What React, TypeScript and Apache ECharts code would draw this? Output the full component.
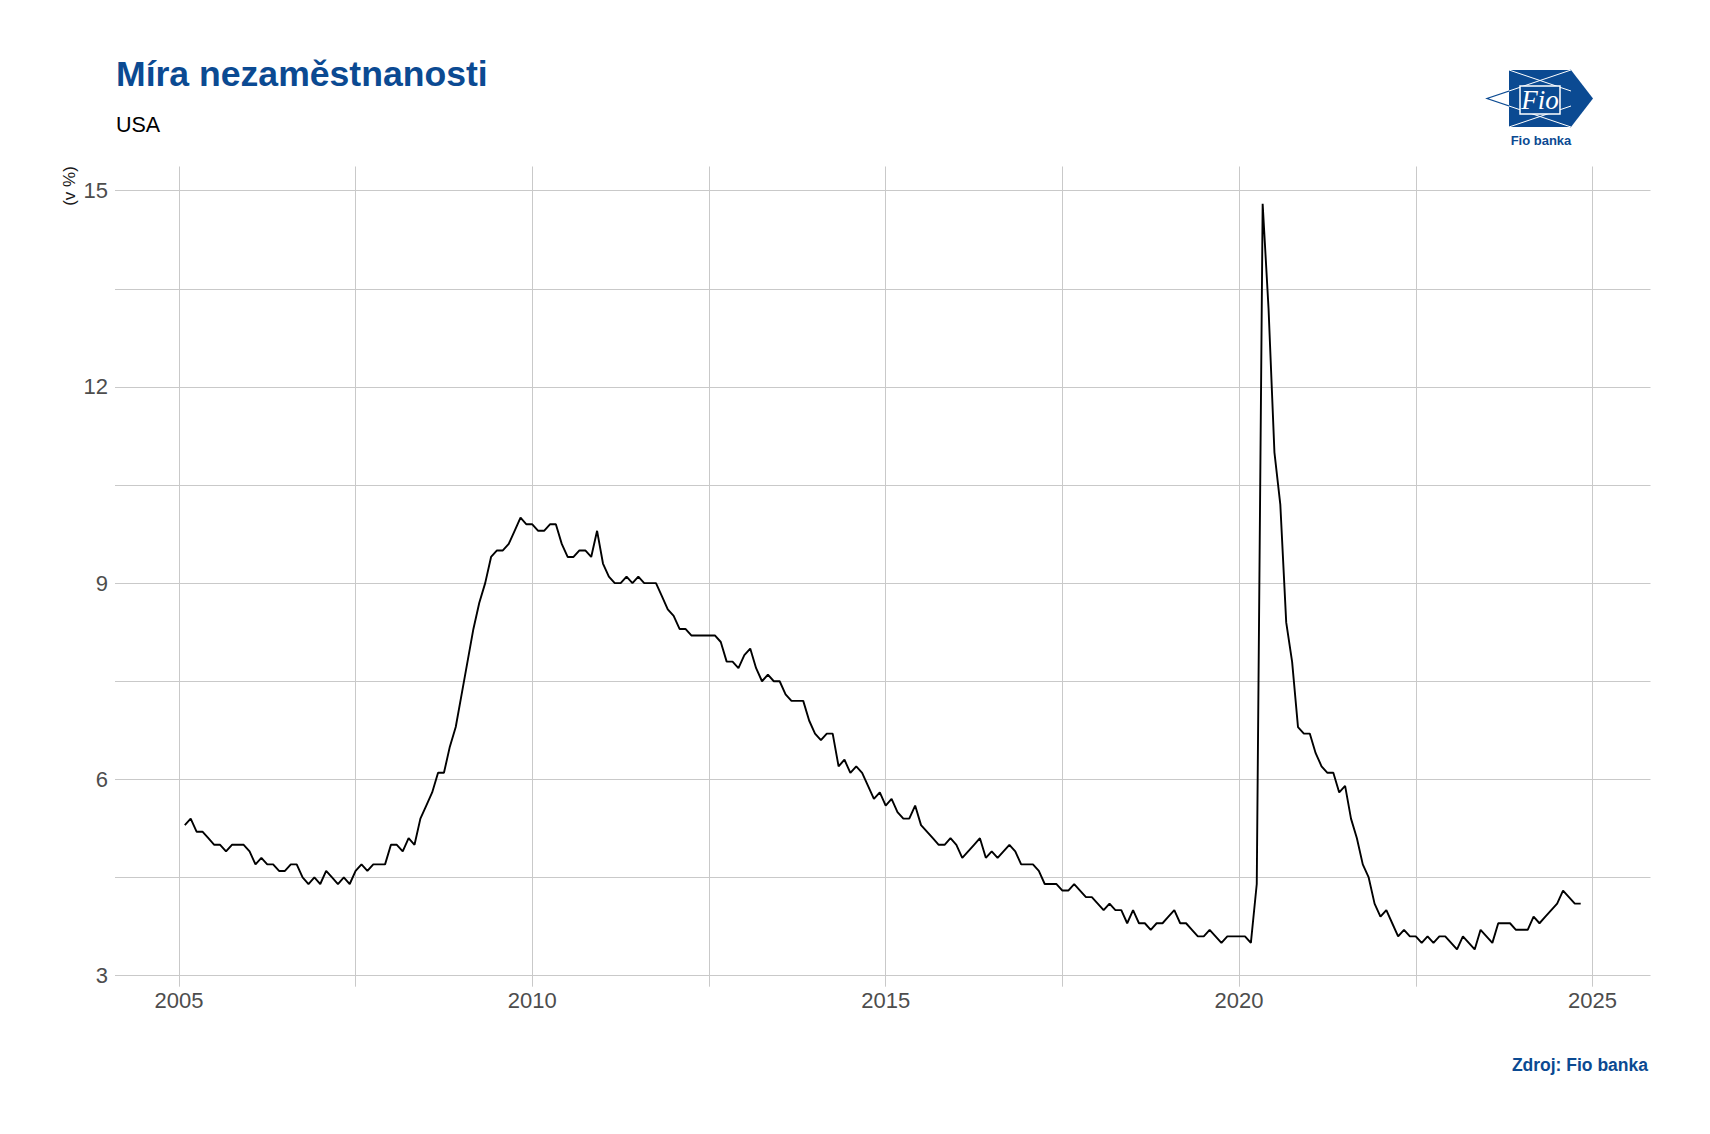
import React, { useEffect, useRef } from "react";
import * as echarts from "echarts";

// Monthly US unemployment rate (%), Jan..Dec (2024 through Oct)
const u2005 = [5.3, 5.4, 5.2, 5.2, 5.1, 5.0, 5.0, 4.9, 5.0, 5.0, 5.0, 4.9];
const u2006 = [4.7, 4.8, 4.7, 4.7, 4.6, 4.6, 4.7, 4.7, 4.5, 4.4, 4.5, 4.4];
const u2007 = [4.6, 4.5, 4.4, 4.5, 4.4, 4.6, 4.7, 4.6, 4.7, 4.7, 4.7, 5.0];
const u2008 = [5.0, 4.9, 5.1, 5.0, 5.4, 5.6, 5.8, 6.1, 6.1, 6.5, 6.8, 7.3];
const u2009 = [7.8, 8.3, 8.7, 9.0, 9.4, 9.5, 9.5, 9.6, 9.8, 10.0, 9.9, 9.9];
const u2010 = [9.8, 9.8, 9.9, 9.9, 9.6, 9.4, 9.4, 9.5, 9.5, 9.4, 9.8, 9.3];
const u2011 = [9.1, 9.0, 9.0, 9.1, 9.0, 9.1, 9.0, 9.0, 9.0, 8.8, 8.6, 8.5];
const u2012 = [8.3, 8.3, 8.2, 8.2, 8.2, 8.2, 8.2, 8.1, 7.8, 7.8, 7.7, 7.9];
const u2013 = [8.0, 7.7, 7.5, 7.6, 7.5, 7.5, 7.3, 7.2, 7.2, 7.2, 6.9, 6.7];
const u2014 = [6.6, 6.7, 6.7, 6.2, 6.3, 6.1, 6.2, 6.1, 5.9, 5.7, 5.8, 5.6];
const u2015 = [5.7, 5.5, 5.4, 5.4, 5.6, 5.3, 5.2, 5.1, 5.0, 5.0, 5.1, 5.0];
const u2016 = [4.8, 4.9, 5.0, 5.1, 4.8, 4.9, 4.8, 4.9, 5.0, 4.9, 4.7, 4.7];
const u2017 = [4.7, 4.6, 4.4, 4.4, 4.4, 4.3, 4.3, 4.4, 4.3, 4.2, 4.2, 4.1];
const u2018 = [4.0, 4.1, 4.0, 4.0, 3.8, 4.0, 3.8, 3.8, 3.7, 3.8, 3.8, 3.9];
const u2019 = [4.0, 3.8, 3.8, 3.7, 3.6, 3.6, 3.7, 3.6, 3.5, 3.6, 3.6, 3.6];
const u2020 = [3.6, 3.5, 4.4, 14.8, 13.2, 11.0, 10.2, 8.4, 7.8, 6.8, 6.7, 6.7];
const u2021 = [6.4, 6.2, 6.1, 6.1, 5.8, 5.9, 5.4, 5.1, 4.7, 4.5, 4.1, 3.9];
const u2022 = [4.0, 3.8, 3.6, 3.7, 3.6, 3.6, 3.5, 3.6, 3.5, 3.6, 3.6, 3.5];
const u2023 = [3.4, 3.6, 3.5, 3.4, 3.7, 3.6, 3.5, 3.8, 3.8, 3.8, 3.7, 3.7];
const u2024 = [3.7, 3.9, 3.8, 3.9, 4.0, 4.1, 4.3, 4.2, 4.1, 4.1];

const firstYear = 2005;
const yearly = [
  u2005, u2006, u2007, u2008, u2009, u2010, u2011, u2012, u2013, u2014,
  u2015, u2016, u2017, u2018, u2019, u2020, u2021, u2022, u2023, u2024,
];

const xLabelTicks = [2005, 2010, 2015, 2020, 2025];
const xGridTicks = [2005, 2007.5, 2010, 2012.5, 2015, 2017.5, 2020, 2022.5, 2025];
const yLabelTicks = [3, 6, 9, 12, 15];
const yGridTicks = [3, 4.5, 6, 7.5, 9, 10.5, 12, 13.5, 15];

const TITLE = "Míra nezaměstnanosti";
const SUBTITLE = "USA";
const Y_NAME = "(v %)";
const SOURCE = "Zdroj: Fio banka";

const BLUE = "#0b4a92";
const FONT = '"Liberation Sans", Arial, Helvetica, sans-serif';

export default function App() {
  const ref = useRef<HTMLDivElement>(null);

  useEffect(() => {
    document.body.style.margin = "0";
    if (!ref.current) return;
    const chart = echarts.init(ref.current, undefined, { renderer: "svg" });

    // data points at end of each month
    const points: [number, number][] = [];
    yearly.forEach((arr, yi) => {
      arr.forEach((v, m) => {
        points.push([firstYear + yi + (m + 1) / 12, v]);
      });
    });
    const xs = points.map((p) => p[0]);
    const ys = points.map((p) => p[1]);
    const xLo = Math.min(...xs), xHi = Math.max(...xs);
    const yLo = Math.min(...ys), yHi = Math.max(...ys);
    const xPad = (xHi - xLo) * 0.05;
    const yPad = (yHi - yLo) * 0.05;

    const gridLine = { show: true, lineStyle: { color: "#c9c9c9", width: 1 } };

    chart.setOption({
      animation: false,
      backgroundColor: "#ffffff",
      grid: { left: 115, right: 59.5, top: 166.5, bottom: 147.3, containLabel: false },
      xAxis: {
        type: "value",
        min: xLo - xPad,
        max: xHi + xPad,
        axisLine: { show: false },
        axisTick: { show: false, customValues: xGridTicks },
        splitLine: gridLine,
        axisLabel: {
          customValues: xLabelTicks,
          color: "#4d4d4d",
          fontSize: 22,
          fontFamily: FONT,
          margin: 3,
          formatter: (v: number) => String(v),
        },
      },
      yAxis: {
        type: "value",
        min: yLo - yPad,
        max: yHi + yPad,
        axisLine: { show: false },
        axisTick: { show: false, customValues: yGridTicks },
        splitLine: gridLine,
        axisLabel: {
          customValues: yLabelTicks,
          color: "#4d4d4d",
          fontSize: 22,
          fontFamily: FONT,
          margin: 7,
          formatter: (v: number) => String(v),
        },
      },
      series: [
        {
          type: "line",
          data: points,
          showSymbol: false,
          symbol: "none",
          lineStyle: { color: "#000000", width: 1.9 },
          silent: true,
        },
      ],
      graphic: [
        {
          type: "text",
          x: 116,
          y: 74,
          style: {
            text: TITLE,
            fill: BLUE,
            fontSize: 35.6,
            fontWeight: "bold",
            fontFamily: FONT,
            verticalAlign: "middle",
            align: "left",
          },
        },
        {
          type: "text",
          x: 116,
          y: 124.5,
          style: {
            text: SUBTITLE,
            fill: "#000000",
            fontSize: 21.5,
            fontFamily: FONT,
            verticalAlign: "middle",
            align: "left",
          },
        },
        {
          type: "text",
          x: 69,
          y: 186,
          rotation: Math.PI / 2,
          style: {
            text: Y_NAME,
            fill: "#1a1a1a",
            fontSize: 17,
            fontFamily: FONT,
            verticalAlign: "middle",
            align: "center",
          },
        },
        {
          type: "text",
          x: 1648,
          y: 1065,
          style: {
            text: SOURCE,
            fill: BLUE,
            fontSize: 17.5,
            fontWeight: "bold",
            fontFamily: FONT,
            verticalAlign: "middle",
            align: "right",
          },
        },
        // Logo
        {
          type: "polyline",
          shape: { points: [[1571, 70], [1487, 98.5], [1571, 127]] },
          style: { stroke: BLUE, lineWidth: 1.2, fill: "none" },
        },
        {
          type: "polygon",
          shape: { points: [[1509, 70], [1571, 70], [1593, 98.5], [1571, 127], [1509, 127]] },
          style: { fill: BLUE },
        },
        {
          type: "polyline",
          shape: { points: [[1509, 91], [1571, 70]] },
          style: { stroke: "#ffffff", lineWidth: 1, fill: "none" },
        },
        {
          type: "polyline",
          shape: { points: [[1509, 106], [1571, 127]] },
          style: { stroke: "#ffffff", lineWidth: 1, fill: "none" },
        },
        {
          type: "polyline",
          shape: { points: [[1509, 70], [1571, 91]] },
          style: { stroke: "#ffffff", lineWidth: 1, fill: "none" },
        },
        {
          type: "polyline",
          shape: { points: [[1509, 127], [1571, 106]] },
          style: { stroke: "#ffffff", lineWidth: 1, fill: "none" },
        },
        {
          type: "rect",
          shape: { x: 1520, y: 86, width: 40, height: 28 },
          style: { fill: BLUE, stroke: "#ffffff", lineWidth: 1.5 },
        },
        {
          type: "text",
          x: 1540,
          y: 100,
          style: {
            text: "Fio",
            fill: "#ffffff",
            fontSize: 27,
            fontStyle: "italic",
            fontFamily: '"Liberation Serif", "DejaVu Serif", serif',
            verticalAlign: "middle",
            align: "center",
          },
        },
        {
          type: "text",
          x: 1541,
          y: 140,
          style: {
            text: "Fio banka",
            fill: BLUE,
            fontSize: 13,
            fontWeight: "bold",
            fontFamily: FONT,
            verticalAlign: "middle",
            align: "center",
          },
        },
      ],
    });

    return () => {
      chart.dispose();
    };
  }, []);

  return (
    <div
      ref={ref}
      style={{ position: "absolute", left: 0, top: 0, width: 1710, height: 1134, background: "#fff" }}
    />
  );
}
